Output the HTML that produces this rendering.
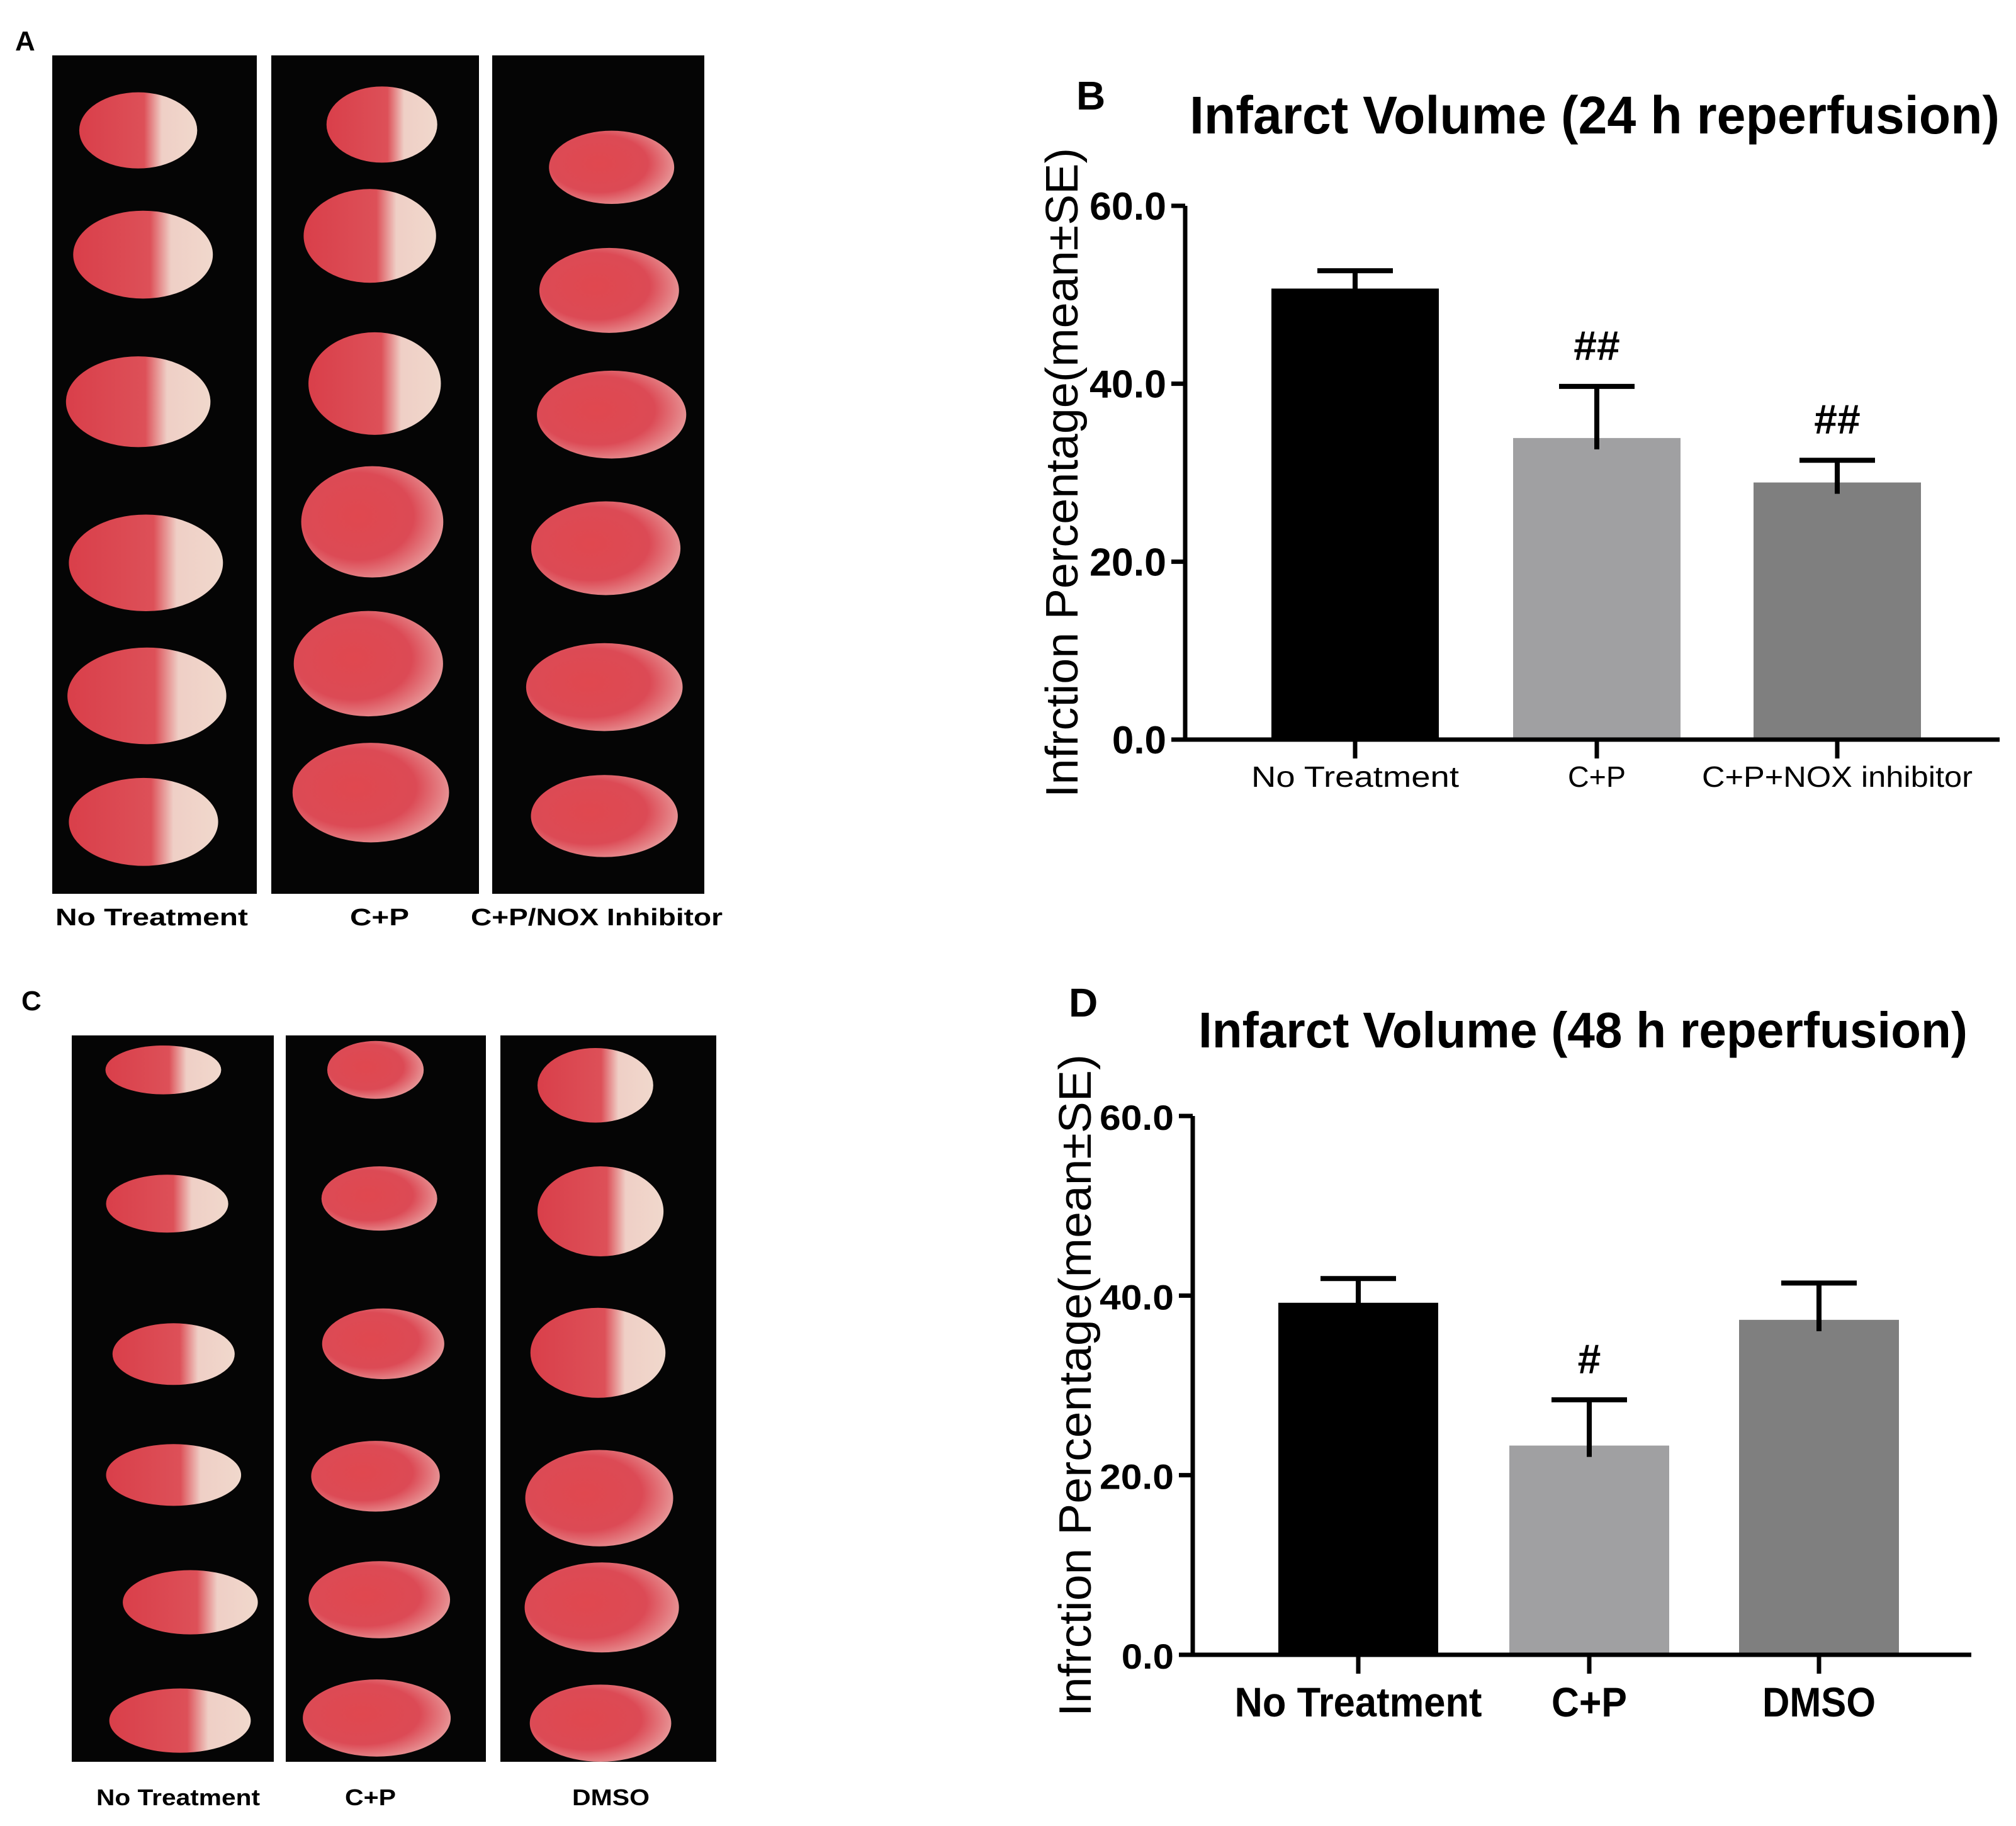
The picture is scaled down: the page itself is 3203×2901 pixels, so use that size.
<!DOCTYPE html>
<html><head><meta charset="utf-8"><style>
html,body{margin:0;padding:0;background:#fff;}
svg{display:block;font-family:"Liberation Sans",sans-serif;}
</style></head><body>
<svg id="fig" width="3203" height="2901" viewBox="0 0 3203 2901" xmlns="http://www.w3.org/2000/svg">
<defs>
<radialGradient id="brainA" cx="0.4" cy="0.45" r="0.65">
<stop offset="0" stop-color="#e0484f"/><stop offset="0.6" stop-color="#dc4a55"/><stop offset="1" stop-color="#e9a0a0"/>
</radialGradient>
<linearGradient id="infarct" x1="0" x2="1" y1="0" y2="0">
<stop offset="0" stop-color="#d93f4a"/><stop offset="0.55" stop-color="#dd5058"/><stop offset="0.7" stop-color="#efcfc6"/><stop offset="1" stop-color="#f0d8cc"/>
</linearGradient>
</defs>
<text x="24" y="80" font-size="44" font-weight="bold">A</text>
<text x="34" y="1605" font-size="44" font-weight="bold">C</text>
<g id="photos"></g>
<text x="88" y="1470" font-size="38" font-weight="900" textLength="306" lengthAdjust="spacingAndGlyphs">No Treatment</text>
<text x="556" y="1470" font-size="38" font-weight="900" textLength="94" lengthAdjust="spacingAndGlyphs">C+P</text>
<text x="748" y="1470" font-size="38" font-weight="900" textLength="400" lengthAdjust="spacingAndGlyphs">C+P/NOX Inhibitor</text>
<text x="153" y="2868" font-size="36" font-weight="900" textLength="260" lengthAdjust="spacingAndGlyphs">No Treatment</text>
<text x="548" y="2868" font-size="36" font-weight="900" textLength="81" lengthAdjust="spacingAndGlyphs">C+P</text>
<text x="909" y="2868" font-size="36" font-weight="900" textLength="123" lengthAdjust="spacingAndGlyphs">DMSO</text>
<g id="chartB"></g>
<g id="chartD"></g>
</svg>
<script>
// ---- Chart B data ----
const catsB = ["No Treatment", "C+P", "C+P+NOX inhibitor"];
const valsB = [50.7, 33.9, 28.9];
const errsB = [2.0, 5.8, 2.5];
const sigB = ["", "##", "##"];
// ---- Chart D data ----
const catsD = ["No Treatment", "C+P", "DMSO"];
const valsD = [39.2, 23.3, 37.3];
const errsD = [2.7, 5.1, 4.1];
const sigD = ["", "#", ""];
const ticks = [0, 20, 40, 60];
const tickLabels = ["0.0", "20.0", "40.0", "60.0"];
const colors = ["#000000", "#a0a0a2", "#7f7f7f"];

const NS = "http://www.w3.org/2000/svg";
function mk(parent, tag, attrs, text) {
  const e = document.createElementNS(NS, tag);
  for (const k in attrs) e.setAttribute(k, attrs[k]);
  if (text !== undefined) e.textContent = text;
  parent.appendChild(e);
  return e;
}

// photos
const photos = document.getElementById('photos');
const stripsA = [[83,88,325,1332],[431,88,330,1332],[782,88,337,1332]];
const stripsC = [[114,1645,321,1154],[454,1645,318,1154],[795,1645,343,1154]];
stripsA.concat(stripsC).forEach((s, i) => {
  const r = mk(photos, 'rect', {x:s[0], y:s[1], width:s[2], height:s[3], fill:'#050505'});
  
  
});
const zA = [
 [[287,180,245,130],[297,392,290,150],[287,643,300,155],[303,918,320,165],[305,1145,330,165],[298,1360,310,150]],
 [[793,170,230,130],[768,360,275,160],[778,612,275,175],[773,848,295,190],[765,1090,310,180],[770,1310,325,170]],
 [[1270,243,260,125],[1265,453,290,145],[1270,665,310,150],[1258,893,310,160],[1255,1130,325,150],[1255,1350,305,140]]];
const dC = [
 [[127,832,90,38],[130,936,95,45],[135,1053,95,48],[135,1147,105,48],[148,1246,105,50],[140,1338,110,50]],
 [[292,832,75,45],[295,932,90,50],[298,1045,95,55],[292,1148,100,55],[295,1244,110,60],[293,1336,115,60]],
 [[463,844,90,58],[467,942,98,70],[465,1052,105,70],[466,1165,115,75],[468,1250,120,70],[467,1340,110,60]]];
zA.forEach((col, ci) => col.forEach((b, bi) => {
  const cx = b[0]/1.307, cy = 88 + (b[1]-52)*0.931, w = b[2]/1.307, h = b[3]*0.931;
  const fill = (ci === 0 || (ci === 1 && bi < 3)) ? 'url(#infarct)' : 'url(#brainA)';
  const e = mk(photos, 'ellipse', {cx:cx, cy:cy, rx:w/2, ry:h/2, fill:fill});
  
  
}));
dC.forEach((col, ci) => col.forEach((b, bi) => {
  const k = 2.043;
  const fill = (ci === 0 || (ci === 2 && bi < 3)) ? 'url(#infarct)' : 'url(#brainA)';
  const e = mk(photos, 'ellipse', {cx:b[0]*k, cy:b[1]*k, rx:b[2]*k/2, ry:b[3]*k/2, fill:fill});
  
  
}));

function drawChart(g, cfg, cats, vals, errs, sig) {
  const y = v => cfg.y0 - (v/60)*(cfg.y0 - cfg.y60);
  const t = mk(g, 'text', {x:cfg.titleX, y:cfg.titleY, 'font-size':cfg.titleFs, 'font-weight':'bold', textLength:cfg.titleW, lengthAdjust:'spacingAndGlyphs'}, cfg.title);
  
  
  const pl = mk(g, 'text', {x:cfg.letterX, y:cfg.letterY, 'font-size':64, 'font-weight':'bold'}, cfg.letter);
  
  
  const cy = (cfg.yTitleTop + cfg.yTitleBot)/2;
  const yt = mk(g, 'text', {x:cfg.yTitleX, y:cy, 'font-size':cfg.yTitleFs, 'text-anchor':'middle', textLength:cfg.yTitleBot-cfg.yTitleTop, lengthAdjust:'spacingAndGlyphs', transform:`rotate(-90 ${cfg.yTitleX} ${cy})`}, 'Infrction Percentage(mean\u00b1SE)');
  
  
  cats.forEach((c, i) => {
    const x0 = cfg.barX[i];
    const b = mk(g, 'rect', {x:x0, y:y(vals[i]), width:cfg.barW, height:y(0)-y(vals[i]), fill:colors[i]});
    
    
    const cx = x0 + cfg.barW/2;
    const eb = mk(g, 'path', {d:`M${cx},${y(vals[i])+18} V${y(vals[i]+errs[i])} M${cx-60},${y(vals[i]+errs[i])} H${cx+60}`, stroke:'#000', 'stroke-width':8, fill:'none'});
    
    
    if (sig[i]) {
      const s = mk(g, 'text', {x:cx, y:y(vals[i]+errs[i]) - 42, 'font-size':66, 'font-weight':'bold', 'text-anchor':'middle'}, sig[i]);
      
      
    }
    const tk = mk(g, 'line', {x1:cx, x2:cx, y1:y(0), y2:y(0)+30, stroke:'#000', 'stroke-width':7});
    
    
    const lb = mk(g, 'text', {x:cx, y:cfg.xLabY, 'font-size':cfg.xLabFs, 'font-weight':cfg.xLabWeight, 'text-anchor':'middle', textLength:cfg.xLabW[i], lengthAdjust:'spacingAndGlyphs'}, c);
    
    
  });
  const ax = mk(g, 'path', {d:`M${cfg.axX},${cfg.y60} V${y(0)} H${cfg.axEnd}`, stroke:'#000', 'stroke-width':7, fill:'none'});
  
  
  ticks.forEach((v, i) => {
    const tk = mk(g, 'line', {x1:cfg.axX-22, x2:cfg.axX, y1:y(v), y2:y(v), stroke:'#000', 'stroke-width':7});
    
    
    const lab = tickLabels[i];
    const w = cfg.tickW * (lab.length - 0.6) / 3.4;
    const tl = mk(g, 'text', {x:cfg.axX-30, y:y(v)+22, 'font-size':cfg.tickFs, 'font-weight':'bold', 'text-anchor':'end', textLength:w, lengthAdjust:'spacingAndGlyphs'}, lab);
    
    
  });
}

drawChart(document.getElementById('chartB'), {
  y0:1175, y60:327, axX:1883, axEnd:3177, barX:[2020,2404,2786], barW:266,
  title:'Infarct Volume (24 h reperfusion)', titleX:1890, titleY:212, titleFs:84, titleW:1287,
  letter:'B', letterX:1710, letterY:174,
  yTitleX:1712, yTitleTop:235, yTitleBot:1267, yTitleFs:72,
  tickFs:62, tickW:122, xLabY:1250, xLabFs:46, xLabWeight:'normal', xLabW:[330,92,430]
}, catsB, valsB, errsB, sigB);

drawChart(document.getElementById('chartD'), {
  y0:2629, y60:1773, axX:1895, axEnd:3132, barX:[2031,2398,2763], barW:254,
  title:'Infarct Volume (48 h reperfusion)', titleX:1904, titleY:1664, titleFs:80, titleW:1222,
  letter:'D', letterX:1698, letterY:1615,
  yTitleX:1733, yTitleTop:1675, yTitleBot:2727, yTitleFs:72,
  tickFs:56, tickW:118, xLabY:2727, xLabFs:66, xLabWeight:'bold', xLabW:[393,120,180]
}, catsD, valsD, errsD, sigD);
</script>
</body></html>
